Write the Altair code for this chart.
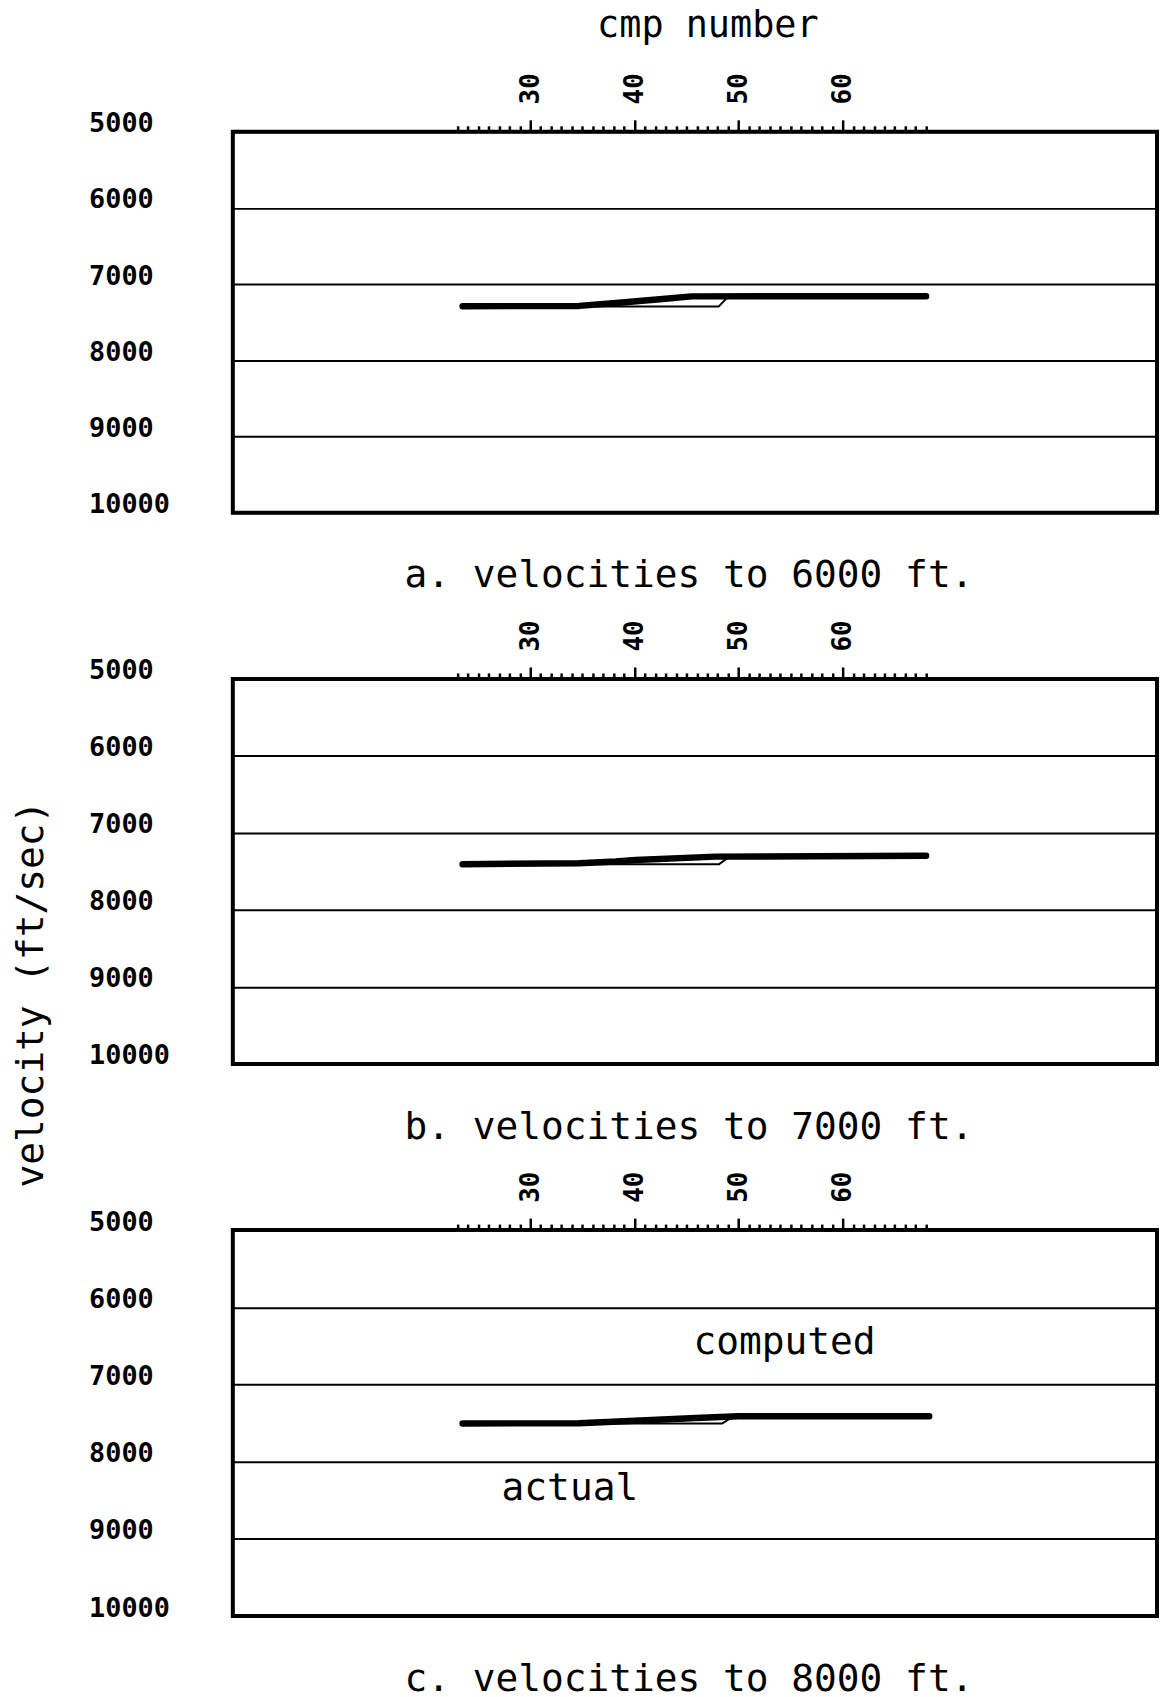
import altair as alt
import pandas as pd

FONT = "DejaVu Sans Mono"

# ---- data ----
cmp_ticks = list(range(23, 69))          # minor ticks every cmp, labels every 10
vel_ticks = [5000, 6000, 7000, 8000, 9000, 10000]

panel_titles = [
    "a. velocities to 6000 ft.",
    "b. velocities to 7000 ft.",
    "c. velocities to 8000 ft.",
]

# panel a
comp_a_cmp = [23.5, 34.7, 38.8, 42.7, 45.5, 68.0]
comp_a_vel = [7290, 7285, 7240, 7195, 7160, 7158]
act_a_cmp = [23.5, 48.1, 49.0, 68.0]
act_a_vel = [7292, 7292, 7163, 7158]

# panel b
comp_b_cmp = [23.5, 34.7, 38.2, 40.1, 47.8, 68.0]
comp_b_vel = [7406, 7395, 7372, 7351, 7308, 7296]
act_b_cmp = [23.5, 48.1, 49.2, 68.0]
act_b_vel = [7408, 7408, 7300, 7296]

# panel c
comp_c_cmp = [23.5, 34.7, 41.1, 45.9, 50.0, 68.3]
comp_c_vel = [7505, 7503, 7465, 7435, 7413, 7412]
act_c_cmp = [23.5, 48.4, 49.5, 68.3]
act_c_vel = [7507, 7507, 7415, 7412]

annot_text = ["computed", "actual"]
annot_cmp = [54.4, 33.8]
annot_vel = [6470, 8350]

panel_heights = [383, 387, 388]
PLOT_W = 929
X_DOMAIN = [1.44, 90.17]
BIG = 38


def panel(comp_c, comp_v, act_c, act_v, title, height, first, annotate):
    df = pd.DataFrame({
        "cmp": comp_c + act_c,
        "vel": comp_v + act_v,
        "series": ["computed"] * len(comp_c) + ["actual"] * len(act_c),
    })
    xaxis_kwargs = dict(
        orient="top",
        values=cmp_ticks,
        labelExpr="datum.value % 10 === 0 ? datum.label : ''",
        labelAngle=270,
        labelAlign="left",
        labelBaseline="middle",
        labelFont=FONT,
        labelFontSize=26,
        labelFontWeight="bold",
        labelColor="black",
        labelPadding=16,
        tickColor="black",
        tickWidth=2.5,
        tickSize={"condition": {"test": "datum.value % 10 === 0", "value": 12}, "value": 6},
        domain=False,
        grid=False,
    )
    if first:
        xaxis_kwargs.update(
            title="cmp number",
            titleFont=FONT,
            titleFontSize=37,
            titleFontWeight="normal",
            titleColor="black",
            titlePadding=28,
            titleX=477,
            titleAlign="center",
        )
    else:
        xaxis_kwargs.update(title=None)

    yaxis_kwargs = dict(
        values=vel_ticks,
        format="d",
        grid=True,
        gridColor="black",
        gridWidth=2,
        ticks=False,
        domain=False,
        labelFont=FONT,
        labelFontSize=27,
        labelFontWeight="bold",
        labelColor="black",
        labelAlign="left",
        labelBaseline="middle",
        labelPadding=145,
        labelOffset=-8,
        title=None,
    )

    x = alt.X("cmp:Q", scale=alt.Scale(domain=X_DOMAIN, nice=False, zero=False),
              axis=alt.Axis(**xaxis_kwargs))
    y = alt.Y("vel:Q", scale=alt.Scale(domain=[5000, 10000], reverse=True, nice=False, zero=False),
              axis=alt.Axis(**yaxis_kwargs))

    lines = alt.Chart(df).mark_line(
        color="black", strokeCap="round", strokeJoin="round"
    ).encode(
        x=x,
        y=y,
        detail="series:N",
        order="cmp:Q",
        strokeWidth=alt.StrokeWidth(
            "series:N",
            scale=alt.Scale(domain=["computed", "actual"], range=[6.5, 2]),
            legend=None,
        ),
    )
    layers = [lines]
    if annotate:
        adf = pd.DataFrame({"text": annot_text, "cmp": annot_cmp, "vel": annot_vel})
        texts = alt.Chart(adf).mark_text(
            font=FONT, fontSize=BIG, color="black", align="center", baseline="middle"
        ).encode(x=x, y=y, text="text:N")
        layers.append(texts)
    return alt.layer(*layers).properties(
        width=PLOT_W,
        height=height,
        title=alt.TitleParams(
            title, orient="bottom", font=FONT, fontSize=BIG,
            fontWeight="normal", color="black", anchor="middle", offset=40, dx=-6,
        ),
    )


pa = panel(comp_a_cmp, comp_a_vel, act_a_cmp, act_a_vel, panel_titles[0], panel_heights[0], True, False)
pb = panel(comp_b_cmp, comp_b_vel, act_b_cmp, act_b_vel, panel_titles[1], panel_heights[1], False, False)
pc = panel(comp_c_cmp, comp_c_vel, act_c_cmp, act_c_vel, panel_titles[2], panel_heights[2], False, True)

chart = alt.vconcat(pa, pb, pc, spacing=167, bounds="flush").properties(
    title=alt.TitleParams(
        "velocity (ft/sec)", orient="left", anchor="middle", angle=270,
        font=FONT, fontSize=BIG, fontWeight="normal", color="black",
        offset=36, dx=-142,
    ),
    padding={"left": 4, "top": -8, "right": 0, "bottom": 0},
).configure(
    background="white"
).configure_view(
    stroke="black", strokeWidth=4
)

chart.save("out.html", embed_options={"renderer": "svg", "actions": False})
